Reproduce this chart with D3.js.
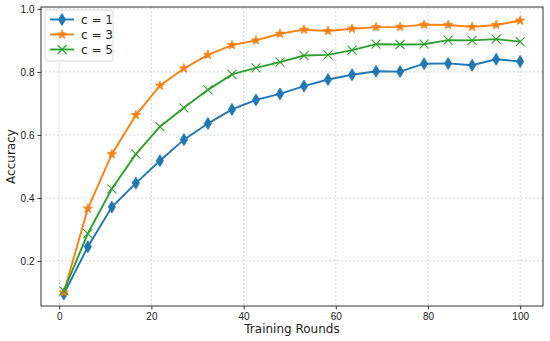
<!DOCTYPE html>
<html>
<head>
<meta charset="utf-8">
<script src="https://cdn.jsdelivr.net/npm/d3@7"></script>
<style>
  body { margin: 0; background: #fff; }
  svg { font-family: "DejaVu Sans", sans-serif; }
  .axis text { font-size: 10px; fill: #222; }
  .axis path, .axis line { stroke: #333; }
</style>
</head>
<body>
<svg id="chart" width="550" height="341"></svg>
<script>
// 20 rounds, evenly spaced from 1 to 100
var rounds = d3.range(20).map(function(i) { return 1 + i * 99 / 19; });

var accC1 = [0.095, 0.245, 0.371, 0.447, 0.518, 0.585, 0.636, 0.681, 0.711, 0.730,
             0.755, 0.776, 0.791, 0.802, 0.801, 0.826, 0.827, 0.821, 0.840, 0.833];
var accC3 = [0.100, 0.366, 0.539, 0.663, 0.756, 0.811, 0.854, 0.885, 0.900, 0.921,
             0.934, 0.930, 0.937, 0.942, 0.943, 0.950, 0.949, 0.943, 0.949, 0.963];
var accC5 = [0.105, 0.287, 0.429, 0.539, 0.626, 0.686, 0.743, 0.792, 0.813, 0.831,
             0.852, 0.854, 0.869, 0.888, 0.887, 0.888, 0.901, 0.900, 0.904, 0.896];

var seriesNames = ["c = 1", "c = 3", "c = 5"];
var xTicks = [0, 20, 40, 60, 80, 100];
var yTicks = [0.2, 0.4, 0.6, 0.8, 1.0];

var series = [
  { name: seriesNames[0], values: accC1, color: "#1f77b4", marker: "diamond" },
  { name: seriesNames[1], values: accC3, color: "#ff7f0e", marker: "star" },
  { name: seriesNames[2], values: accC5, color: "#2ca02c", marker: "x" }
];

var margin = { top: 7, right: 7, bottom: 35, left: 41 },
    width = 550 - margin.left - margin.right,
    height = 341 - margin.top - margin.bottom;

var svg = d3.select("#chart");
var g = svg.append("g")
    .attr("transform", "translate(" + margin.left + "," + margin.top + ")");

var x = d3.scaleLinear().domain([-3.95, 104.95]).range([0, width]);
var y = d3.scaleLinear().domain([0.057, 1.006]).range([height, 0]);

// grid
g.append("g").selectAll("line")
  .data(xTicks).join("line")
    .attr("x1", d => x(d)).attr("x2", d => x(d))
    .attr("y1", 0).attr("y2", height)
    .attr("stroke", "#cccccc").attr("stroke-width", 0.8)
    .attr("stroke-dasharray", "2,2");
g.append("g").selectAll("line")
  .data(yTicks).join("line")
    .attr("x1", 0).attr("x2", width)
    .attr("y1", d => y(d)).attr("y2", d => y(d))
    .attr("stroke", "#cccccc").attr("stroke-width", 0.8)
    .attr("stroke-dasharray", "2,2");

// axes
var xAxis = d3.axisBottom(x).tickValues(xTicks).tickSize(3.5).tickPadding(3).tickFormat(d3.format("d"));
var yAxis = d3.axisLeft(y).tickValues(yTicks).tickSize(3.5).tickPadding(3).tickFormat(d3.format(".1f"));

g.append("g").attr("class", "axis")
  .attr("transform", "translate(0," + height + ")")
  .call(xAxis)
  .call(s => s.select(".domain").remove());
g.append("g").attr("class", "axis")
  .call(yAxis)
  .call(s => s.select(".domain").remove());

// frame
g.append("rect")
  .attr("width", width).attr("height", height)
  .attr("fill", "none").attr("stroke", "#333").attr("stroke-width", 1);

// labels
svg.append("text")
  .attr("x", margin.left + width / 2).attr("y", 333)
  .attr("text-anchor", "middle").attr("font-size", 12).attr("fill", "#222")
  .text("Training Rounds");
svg.append("text")
  .attr("transform", "translate(15," + (margin.top + height / 2) + ") rotate(-90)")
  .attr("text-anchor", "middle").attr("font-size", 12).attr("fill", "#222")
  .text("Accuracy");

// marker shapes
function markerPath(type) {
  if (type === "diamond") return "M0,-6L3.6,0L0,6L-3.6,0Z";
  if (type === "star") return d3.symbol(d3.symbolStar, 26)();
  return "M-4.5,-4.5L4.5,4.5M-4.5,4.5L4.5,-4.5";
}

function drawMarker(sel, s) {
  sel.append("path")
    .attr("d", markerPath(s.marker))
    .attr("fill", s.marker === "x" ? "none" : s.color)
    .attr("stroke", s.color)
    .attr("stroke-width", s.marker === "x" ? 1.1 : 0.8);
}

var line = d3.line().x((d, i) => x(rounds[i])).y(d => y(d));

series.forEach(function(s) {
  var sg = g.append("g");
  sg.append("path")
    .datum(s.values)
    .attr("d", line)
    .attr("fill", "none")
    .attr("stroke", s.color)
    .attr("stroke-width", 1.9);
  s.values.forEach(function(v, i) {
    var m = sg.append("g").attr("transform", "translate(" + x(rounds[i]) + "," + y(v) + ")");
    drawMarker(m, s);
  });
});

// legend
var lg = g.append("g").attr("transform", "translate(4,3)");
lg.append("rect")
  .attr("width", 68).attr("height", 51).attr("rx", 2)
  .attr("fill", "#fff").attr("fill-opacity", 0.8)
  .attr("stroke", "#d0d0d0").attr("stroke-width", 0.8);
series.forEach(function(s, i) {
  var row = lg.append("g").attr("transform", "translate(0," + (9.5 + i * 15) + ")");
  row.append("line")
    .attr("x1", 5).attr("x2", 29)
    .attr("stroke", s.color).attr("stroke-width", 1.9);
  drawMarker(row.append("g").attr("transform", "translate(17,0)"), s);
  row.append("text")
    .attr("x", 36).attr("y", 4.5)
    .attr("font-size", 12).attr("fill", "#222")
    .text(s.name);
});
</script>
</body>
</html>
